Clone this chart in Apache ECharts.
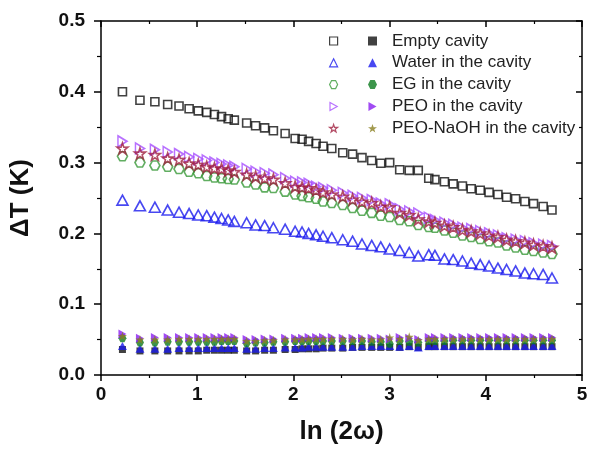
<!DOCTYPE html>
<html><head><meta charset="utf-8">
<script src="https://cdn.jsdelivr.net/npm/echarts@6/dist/echarts.min.js"></script>
<style>html,body{margin:0;padding:0;background:#fff}#c{width:591px;height:450px}</style>
</head><body><div id="c"></div>
<script>
const lnx = [
0.223, 0.405, 0.560, 0.693, 0.811, 0.916, 1.011, 1.099, 1.179, 1.253,
1.322, 1.386, 1.514, 1.607, 1.701, 1.792, 1.914, 2.018, 2.090, 2.158,
2.236, 2.308, 2.399, 2.513, 2.615, 2.713, 2.814, 2.908, 3.001, 3.105,
3.204, 3.298, 3.407, 3.471, 3.570, 3.661, 3.757, 3.848, 3.942, 4.034,
4.126, 4.216, 4.310, 4.406, 4.496, 4.596, 4.688];
const emptyOpen = [
0.400, 0.388, 0.386, 0.382, 0.380, 0.376, 0.373, 0.371, 0.368, 0.365,
0.362, 0.360, 0.356, 0.352, 0.349, 0.345, 0.341, 0.334, 0.333, 0.330,
0.327, 0.323, 0.320, 0.314, 0.312, 0.307, 0.303, 0.299, 0.300, 0.290,
0.289, 0.289, 0.278, 0.276, 0.273, 0.270, 0.267, 0.263, 0.261, 0.258,
0.255, 0.251, 0.249, 0.245, 0.242, 0.238, 0.233];
const waterOpen = [
0.247, 0.239, 0.237, 0.233, 0.230, 0.228, 0.226, 0.225, 0.223, 0.221,
0.219, 0.217, 0.215, 0.212, 0.211, 0.208, 0.206, 0.203, 0.202, 0.200,
0.198, 0.196, 0.194, 0.191, 0.189, 0.185, 0.183, 0.181, 0.178, 0.176,
0.173, 0.168, 0.170, 0.169, 0.164, 0.163, 0.161, 0.158, 0.156, 0.154,
0.151, 0.149, 0.147, 0.144, 0.143, 0.142, 0.137];
const egOpen = [
0.309, 0.300, 0.296, 0.294, 0.291, 0.287, 0.285, 0.281, 0.279, 0.278,
0.277, 0.276, 0.272, 0.269, 0.265, 0.264, 0.259, 0.255, 0.253, 0.251,
0.249, 0.245, 0.243, 0.240, 0.236, 0.232, 0.229, 0.225, 0.223, 0.219,
0.217, 0.212, 0.209, 0.208, 0.204, 0.201, 0.197, 0.195, 0.192, 0.189,
0.187, 0.183, 0.180, 0.177, 0.175, 0.173, 0.171];
const peoOpen = [
0.330, 0.320, 0.318, 0.315, 0.312, 0.308, 0.305, 0.303, 0.300, 0.298,
0.296, 0.294, 0.291, 0.287, 0.285, 0.283, 0.278, 0.273, 0.272, 0.270,
0.266, 0.264, 0.261, 0.257, 0.253, 0.250, 0.247, 0.242, 0.241, 0.234,
0.231, 0.228, 0.222, 0.219, 0.215, 0.212, 0.208, 0.206, 0.203, 0.200,
0.197, 0.193, 0.191, 0.189, 0.186, 0.184, 0.182];
const naohOpen = [
0.320, 0.313, 0.311, 0.306, 0.304, 0.299, 0.297, 0.294, 0.292, 0.291,
0.289, 0.287, 0.283, 0.280, 0.278, 0.276, 0.271, 0.266, 0.265, 0.264,
0.261, 0.258, 0.255, 0.252, 0.248, 0.245, 0.243, 0.238, 0.237, 0.229,
0.226, 0.220, 0.217, 0.215, 0.211, 0.209, 0.205, 0.203, 0.200, 0.197,
0.195, 0.191, 0.189, 0.187, 0.184, 0.182, 0.180];
const emptyFilled = [
0.036, 0.034, 0.034, 0.034, 0.034, 0.034, 0.034, 0.035, 0.035, 0.035,
0.035, 0.035, 0.034, 0.034, 0.035, 0.035, 0.036, 0.036, 0.037, 0.037,
0.037, 0.038, 0.038, 0.038, 0.039, 0.039, 0.039, 0.039, 0.039, 0.039,
0.040, 0.039, 0.040, 0.040, 0.040, 0.040, 0.040, 0.040, 0.040, 0.040,
0.040, 0.040, 0.040, 0.040, 0.040, 0.040, 0.040];
const waterFilled = [
0.041, 0.037, 0.037, 0.037, 0.038, 0.038, 0.038, 0.038, 0.038, 0.038,
0.038, 0.038, 0.037, 0.037, 0.038, 0.038, 0.039, 0.039, 0.039, 0.040,
0.040, 0.040, 0.040, 0.040, 0.040, 0.041, 0.041, 0.041, 0.041, 0.040,
0.041, 0.039, 0.041, 0.041, 0.041, 0.041, 0.041, 0.041, 0.041, 0.041,
0.041, 0.041, 0.041, 0.041, 0.041, 0.041, 0.041];
const egFilled = [
0.052, 0.046, 0.046, 0.047, 0.047, 0.047, 0.047, 0.047, 0.047, 0.048,
0.048, 0.048, 0.045, 0.046, 0.046, 0.047, 0.047, 0.048, 0.048, 0.048,
0.048, 0.048, 0.048, 0.048, 0.048, 0.048, 0.047, 0.047, 0.044, 0.048,
0.047, 0.046, 0.048, 0.048, 0.048, 0.049, 0.049, 0.049, 0.049, 0.049,
0.049, 0.049, 0.049, 0.049, 0.049, 0.049, 0.049];
const peoFilled = [
0.058, 0.052, 0.053, 0.053, 0.053, 0.053, 0.053, 0.053, 0.053, 0.053,
0.053, 0.053, 0.050, 0.050, 0.051, 0.051, 0.052, 0.052, 0.052, 0.053,
0.053, 0.053, 0.053, 0.052, 0.052, 0.052, 0.052, 0.052, 0.051, 0.053,
0.052, 0.050, 0.053, 0.053, 0.053, 0.053, 0.053, 0.053, 0.053, 0.053,
0.053, 0.053, 0.053, 0.053, 0.053, 0.053, 0.053];
const naohFilled = [
0.055, 0.050, 0.050, 0.050, 0.051, 0.051, 0.051, 0.051, 0.051, 0.051,
0.051, 0.051, 0.048, 0.048, 0.049, 0.049, 0.050, 0.050, 0.050, 0.051,
0.051, 0.051, 0.051, 0.051, 0.050, 0.051, 0.050, 0.050, 0.053, 0.051,
0.054, 0.049, 0.051, 0.051, 0.051, 0.051, 0.051, 0.051, 0.051, 0.051,
0.051, 0.051, 0.051, 0.051, 0.051, 0.051, 0.051];
const labels = ['Empty cavity', 'Water in the cavity', 'EG in the cavity', 'PEO in the cavity', 'PEO-NaOH in the cavity'];
const xTicks = [0, 1, 2, 3, 4, 5];
const yTicks = [0, 0.1, 0.2, 0.3, 0.4, 0.5];

const HEX = 'path://M25,0 L75,0 L100,50 L75,100 L25,100 L0,50 Z';
const STAR = 'path://M50,0 L61.8,35.1 L97.6,34.5 L69.1,56.7 L79.4,90.5 L50,70 L20.6,90.5 L30.9,56.7 L2.4,34.5 L38.2,35.1 Z';
const RTRI = 'path://M0,0 L90,50 L0,100 Z';
const symbols = ['rect', 'triangle', HEX, RTRI, STAR];
const openSize = [[8,8],[11,10],[10,9],[9,11],[11,11]];
const fillSize = [[7,7],[9,8],[8,8],[8,9],[9,9]];
const openColors = ['#111111', '#1a1aee', '#3a9a3a', '#a64dff', '#a02040'];
const fillColors = ['#111111', '#1a1aee', '#0b7a1e', '#8a1ef0', '#8a8020'];
const openSets = [emptyOpen, waterOpen, egOpen, peoOpen, naohOpen];
const fillSets = [emptyFilled, waterFilled, egFilled, peoFilled, naohFilled];
const pair = ys => lnx.map((v, i) => [v, ys[i]]);

const series = [];
const openNames = [], fillNames = [];
labels.forEach((lab, k) => {
  const n = lab + ' (open)';
  openNames.push(n);
  series.push({ type: 'scatter', name: n, data: pair(openSets[k]), symbol: symbols[k], symbolSize: openSize[k],
    itemStyle: { color: 'rgba(255,255,255,0)', borderColor: openColors[k], borderWidth: 1.6 }, z: 3 });
});
labels.forEach((lab, k) => {
  fillNames.push(lab);
  series.push({ type: 'scatter', name: lab, data: pair(fillSets[k]), symbol: symbols[k], symbolSize: fillSize[k],
    itemStyle: { color: fillColors[k] }, z: 4 });
});

const F = '"Liberation Sans", Arial, sans-serif';
const axisLine = { show: true, onZero: false, lineStyle: { color: '#000', width: 1.5 } };
const chart = echarts.init(document.getElementById('c'), null, { renderer: 'canvas' });
chart.setOption({
  animation: false,
  backgroundColor: '#fff',
  grid: { left: 101, right: 9, top: 21, bottom: 74, containLabel: false },
  legend: [
    { data: openNames, orient: 'vertical', left: 324, top: 26, itemWidth: 8, itemHeight: 8, itemGap: 1.8,
      itemStyle: { borderWidth: 1.2 },
      formatter: () => ' ', textStyle: { fontSize: 17, lineHeight: 20, fontFamily: F }, selectedMode: false },
    { data: fillNames, orient: 'vertical', left: 363, top: 26, itemWidth: 9, itemHeight: 9, itemGap: 1.8,
      textStyle: { fontSize: 17, lineHeight: 20, fontFamily: F, color: '#222', padding: [0, 0, 0, 10] }, selectedMode: false }
  ],
  xAxis: [
    { type: 'value', min: xTicks[0], max: xTicks[xTicks.length - 1], interval: 1, position: 'bottom',
      axisLine, splitLine: { show: false },
      axisTick: { show: true, inside: false, length: 6, lineStyle: { color: '#000', width: 1.5 } },
      minorTick: { show: true, splitNumber: 2, length: 3, lineStyle: { color: '#000', width: 1.2 } },
      axisLabel: { fontSize: 19, fontWeight: 'bold', color: '#111', fontFamily: F, margin: 10 },
      name: 'ln (2\u03c9)', nameLocation: 'middle', nameGap: 44,
      nameTextStyle: { fontSize: 26, fontWeight: 'bold', color: '#111', fontFamily: F } },
    { type: 'value', min: xTicks[0], max: xTicks[xTicks.length - 1], interval: 1, position: 'top',
      axisLine, splitLine: { show: false }, axisLabel: { show: false },
      axisTick: { show: true, inside: true, length: 6, lineStyle: { color: '#000', width: 1.5 } },
      minorTick: { show: true, splitNumber: 2, length: 3, lineStyle: { color: '#000', width: 1.2 } } }
  ],
  yAxis: [
    { type: 'value', min: yTicks[0], max: yTicks[yTicks.length - 1], interval: 0.1, position: 'left',
      axisLine, splitLine: { show: false },
      axisTick: { show: true, inside: false, length: 7, lineStyle: { color: '#000', width: 1.5 } },
      minorTick: { show: true, splitNumber: 2, length: 4, lineStyle: { color: '#000', width: 1.2 } },
      axisLabel: { fontSize: 19, fontWeight: 'bold', color: '#111', fontFamily: F, margin: 16,
        formatter: v => v.toFixed(1) },
      name: '\u0394T (K)', nameLocation: 'middle', nameGap: 67,
      nameTextStyle: { fontSize: 26, fontWeight: 'bold', color: '#111', fontFamily: F } },
    { type: 'value', min: yTicks[0], max: yTicks[yTicks.length - 1], interval: 0.1, position: 'right',
      axisLine, splitLine: { show: false }, axisLabel: { show: false },
      axisTick: { show: true, inside: true, length: 6, lineStyle: { color: '#000', width: 1.5 } },
      minorTick: { show: true, splitNumber: 2, length: 3, lineStyle: { color: '#000', width: 1.2 } } }
  ],
  series
});
</script></body></html>
